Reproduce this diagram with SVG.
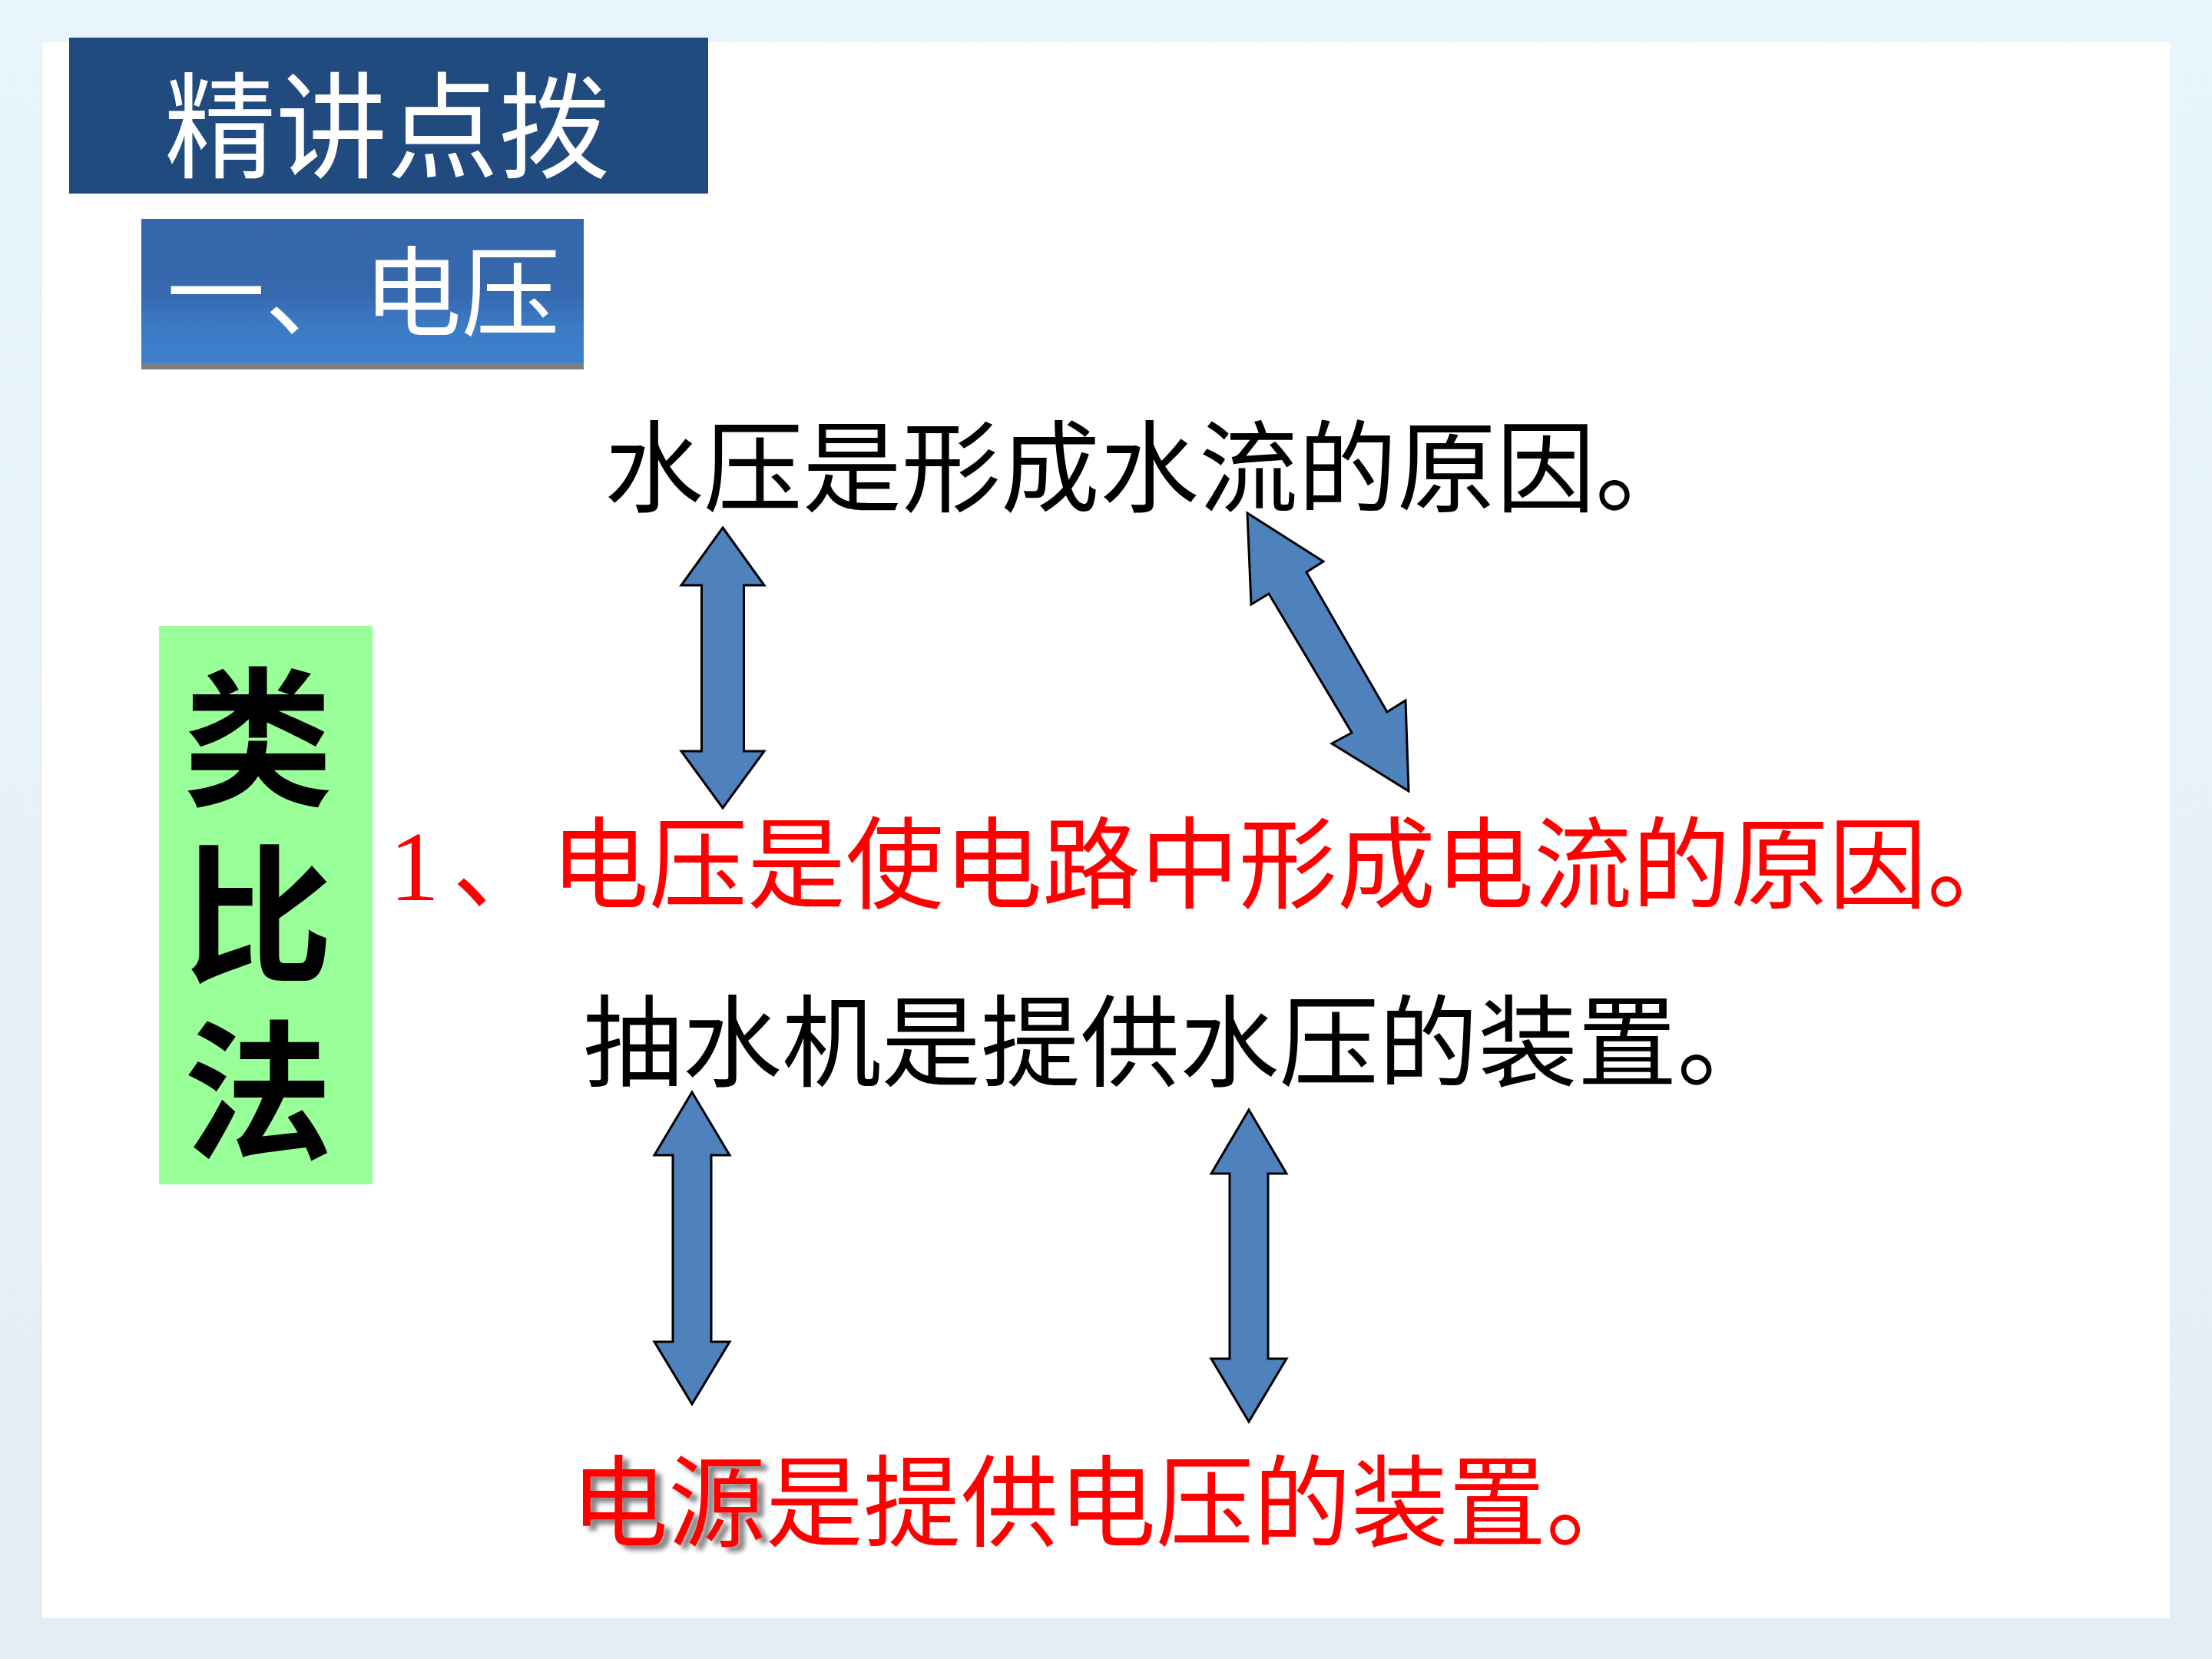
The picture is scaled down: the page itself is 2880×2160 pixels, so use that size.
<svg xmlns="http://www.w3.org/2000/svg" width="2880" height="2160" viewBox="0 0 2880 2160">
  <defs>
    <linearGradient id="bg" x1="0" y1="0" x2="0" y2="1">
      <stop offset="0" stop-color="#e9f5fc"/>
      <stop offset="1" stop-color="#e3edf4"/>
    </linearGradient>
    <linearGradient id="sub" x1="0" y1="0" x2="0" y2="1">
      <stop offset="0" stop-color="#3566aa"/>
      <stop offset="0.5" stop-color="#3668ad"/>
      <stop offset="0.75" stop-color="#3b7bc6"/>
      <stop offset="1" stop-color="#3e80cd"/>
    </linearGradient>
    <filter id="shadow" x="-10%" y="-10%" width="130%" height="130%">
      <feGaussianBlur in="SourceAlpha" stdDeviation="3"/>
      <feOffset dx="8" dy="6" result="b"/>
      <feFlood flood-color="#7f7f7f"/>
      <feComposite in2="b" operator="in"/>
      <feMerge><feMergeNode/><feMergeNode in="SourceGraphic"/></feMerge>
    </filter>
  </defs>
  <style>
    .cjk { font-family: "Noto Sans CJK SC", sans-serif; }
    .blk { fill: #000000; font-size: 130px; }
    .red { fill: #ff0000; font-size: 130px; }
    .arrow { fill: #4f81bd; stroke: #000000; stroke-width: 3; stroke-linejoin: miter; }
  </style>

  <rect x="0" y="0" width="2880" height="2160" fill="url(#bg)"/>
  <rect x="55" y="55" width="2770" height="2052" fill="#ffffff"/>

  <g id="title">
    <rect x="90" y="49" width="832" height="203" fill="#214a7e"/>
    <text class="cjk" x="214" y="220" font-size="150" fill="#ffffff" textLength="580" lengthAdjust="spacingAndGlyphs">精讲点拨</text>
  </g>

  <g id="subtitle">
    <rect x="184" y="285" width="576" height="196" fill="#7f7f7f"/>
    <rect x="184" y="285" width="576" height="188" fill="url(#sub)"/>
    <text class="cjk" x="217" y="428" font-size="128" fill="#ffffff" textLength="512" lengthAdjust="spacingAndGlyphs">一、电压</text>
  </g>

  <g id="method">
    <rect x="207" y="815" width="278" height="727" fill="#99ff99"/>
    <text class="cjk" x="336" y="862" font-size="195" font-weight="700" fill="#000000" writing-mode="vertical-rl" letter-spacing="35">类比法</text>
  </g>

  <g id="water-pressure">
    <text class="cjk blk" x="787" y="656" textLength="1419" lengthAdjust="spacingAndGlyphs">水压是形成水流的原因。</text>
  </g>

  <g id="voltage">
    <text x="507" y="1172" font-family="Liberation Serif, serif" font-size="130" fill="#ff0000">1</text>
    <text class="cjk red" x="589" y="1172" textLength="128" lengthAdjust="spacingAndGlyphs">、</text>
    <text class="cjk red" x="717" y="1172" textLength="1920" lengthAdjust="spacingAndGlyphs">电压是使电路中形成电流的原因。</text>
  </g>

  <g id="pump">
    <text class="cjk blk" x="759" y="1404" textLength="1554" lengthAdjust="spacingAndGlyphs">抽水机是提供水压的装置。</text>
  </g>

  <g id="power-source">
    <text class="cjk red" x="743" y="2003" textLength="254" lengthAdjust="spacingAndGlyphs" filter="url(#shadow)">电源</text>
    <text class="cjk red" x="997" y="2003" textLength="1143" lengthAdjust="spacingAndGlyphs">是提供电压的装置。</text>
  </g>

  <g id="connectors">
    <polygon class="arrow" points="941,687 995,762 968.5,762 968.5,978 995,978 941,1052 887,978 913.5,978 913.5,762 887,762"/>
    <polygon class="arrow" points="1624,668 1723,731 1701,745 1806,927 1830,912 1834,1030 1734,968 1760,954 1652,773 1629,787"/>
    <polygon class="arrow" points="901,1422 950,1504 926,1504 926,1747 950,1747 901,1828 852,1747 876,1747 876,1504 852,1504"/>
    <polygon class="arrow" points="1626,1445 1675,1528 1651,1528 1651,1769 1675,1769 1626,1851 1577,1769 1601,1769 1601,1528 1577,1528"/>
  </g>
</svg>
